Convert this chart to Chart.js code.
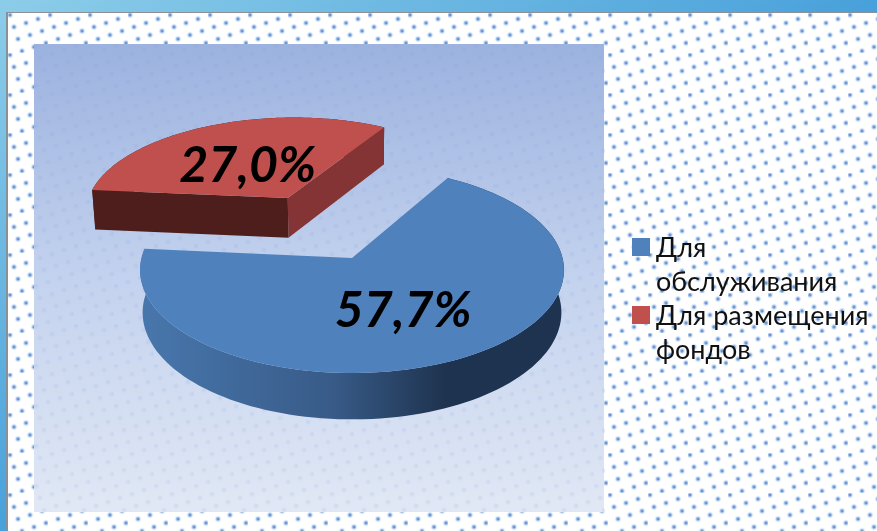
<!DOCTYPE html>
<html lang="ru">
<head>
<meta charset="utf-8">
<title>Диаграмма</title>
<script src="https://cdn.jsdelivr.net/npm/chart.js@4"></script>
<style>
    html, body { margin: 0; padding: 0; width: 877px; height: 531px; overflow: hidden; }
    #frame { position: absolute; left: 0; top: 0; width: 877px; height: 531px;
        background: linear-gradient(to bottom right, #8ccde9 0%, #49a1db 50%, #3f98d8 100%); }
    #sheet { position: absolute; left: 8px; top: 13px; width: 869px; height: 518px; background-color: #fff;
        box-shadow: -2px -1px 0 #8b9094; }
    #plate { position: absolute; left: 34px; top: 44px; width: 570px; height: 468px; }
    canvas { position: absolute; left: 0; top: 0; }
    #legend { position: absolute; left: 632px; top: 230px; width: 245px; margin: 0; padding: 0; list-style: none;
        font: 27px/34px Lato, "Open Sans", sans-serif; color: #111; }
    #legend li { position: relative; padding-left: 24px; width: 220px; }
    #legend span { position: absolute; left: 0; top: 8px; width: 18px; height: 18px; }
</style>
</head>
<body>
<div id="frame"></div>
<div id="sheet"></div>
<div id="plate"></div>
<canvas id="pieChart" width="877" height="531"></canvas>
<ul id="legend"></ul>
<script>
// --- Chart data ---
const categories = ['Для обслуживания', 'Для размещения фондов'];
const shareValues = [57.7, 27.0];

const topColors = ['#4f81bd', '#c0504d'];

// --- Perspective of the disc: centre, half axes and foreshortening ---
const view = { cx: 352, cy: 258, ax: 210.5, ay: 101.6, k: 0.1166 };
// bottom plane of the extruded disc
const floor = { cy: 300, sx: 0.988, sy: 1.038 };
const explode = [0, 0.713];
const sliceScale = [1, 1.015];
const labelRadius = 0.5;
const labelDrop = 5;
const labelFont = 'italic bold 50px Lato, "Open Sans", sans-serif';

// --- Dot wallpaper behind the chart ---
function dotPattern(core, soft) {
    const layers = [];
    for (let i = 0; i < 10; i++) {
        const x = (2 + i * 12) % 40;
        const y = (2 + i * 36) % 40;
        layers.push(`radial-gradient(circle 3.6px at ${x}px ${y}px, ${core} 0, ${core} 0.9px, ${soft} 2.2px, transparent 3.6px)`);
    }
    return layers;
}
function paintBackground() {
    const sheet = document.getElementById('sheet');
    const dots = dotPattern('rgba(80,135,205,0.85)', 'rgba(125,165,225,0.34)');
    sheet.style.backgroundImage = dots.join(',');
    sheet.style.backgroundSize = '40px 40px';

    const plate = document.getElementById('plate');
    const faint = dotPattern('rgba(120,150,215,0.14)', 'rgba(120,150,215,0.06)');
    plate.style.backgroundImage = faint.concat('linear-gradient(180deg, #9cb2df 0%, #c3d2ee 50%, #e1e8f5 100%)').join(',');
    plate.style.backgroundSize = Array(10).fill('40px 40px').concat('100% 100%').join(',');
}

// disc coordinates -> screen, low = bottom plane
function project(u, v, low) {
    const w = 1 - view.k * v;
    const x = view.ax * u / w;
    const y = view.ay * v / w;
    if (low) {
        return [view.cx + floor.sx * x, floor.cy + floor.sy * y];
    }
    return [view.cx + x, view.cy + y];
}

function rimPoints(arc, ou, ov, r, low) {
    const pts = [];
    const steps = 120;
    for (let i = 0; i <= steps; i++) {
        const a = arc.startAngle + (arc.endAngle - arc.startAngle) * i / steps;
        pts.push(project(ou + r * Math.cos(a), ov + r * Math.sin(a), low));
    }
    return pts;
}

function fillPoly(ctx, pts, fill) {
    ctx.beginPath();
    pts.forEach((p, i) => i ? ctx.lineTo(p[0], p[1]) : ctx.moveTo(p[0], p[1]));
    ctx.closePath();
    ctx.fillStyle = fill;
    ctx.fill();
}

function drawSlice(ctx, arc, index) {
    const mid = (arc.startAngle + arc.endAngle) / 2;
    const ou = Math.cos(mid) * explode[index];
    const ov = Math.sin(mid) * explode[index];
    const top = rimPoints(arc, ou, ov, sliceScale[index], false);
    const low = rimPoints(arc, ou, ov, sliceScale[index], true);
    const apexTop = project(ou, ov, false);
    const apexLow = project(ou, ov, true);

    if (index === 0) {
        // blue outer wall with the shading running to the right
        const g = ctx.createLinearGradient(142, 0, 564, 0);
        g.addColorStop(0, '#4877ad');
        g.addColorStop(0.45, '#385b88');
        g.addColorStop(0.72, '#1e334f');
        g.addColorStop(1, '#1e334f');
        fillPoly(ctx, top.concat(low.slice().reverse()), g);
    } else {
        fillPoly(ctx, top.concat(low.slice().reverse()), '#4d1e1c');
        // cut faces of the pulled out slice
        fillPoly(ctx, [apexTop, top[top.length - 1], low[low.length - 1], apexLow], '#843434');
        fillPoly(ctx, [apexTop, top[0], low[0], apexLow], '#4d1e1c');
    }
    fillPoly(ctx, [apexTop].concat(top), topColors[index]);
}

function drawLabel(ctx, arc, index) {
    const mid = (arc.startAngle + arc.endAngle) / 2;
    const r = explode[index] + labelRadius;
    const p = project(Math.cos(mid) * r, Math.sin(mid) * r, false);
    ctx.font = labelFont;
    ctx.fillStyle = '#000';
    ctx.textAlign = 'center';
    ctx.textBaseline = 'middle';
    ctx.fillText(shareValues[index].toFixed(1).replace('.', ',') + '%', p[0], p[1] + labelDrop);
}

// Pie elements keep the angles, this plugin only paints them in 3D
const pie3dPlugin = {
    id: 'pie3d',
    beforeDatasetsDraw(chart) {
        const ctx = chart.ctx;
        const arcs = chart.getDatasetMeta(0).data;
        ctx.save();
        drawSlice(ctx, arcs[1], 1);
        drawSlice(ctx, arcs[0], 0);
        drawLabel(ctx, arcs[1], 1);
        drawLabel(ctx, arcs[0], 0);
        ctx.restore();
        return false;
    }
};

function buildLegend() {
    const list = document.getElementById('legend');
    categories.forEach((name, i) => {
        const li = document.createElement('li');
        const box = document.createElement('span');
        box.style.background = topColors[i];
        li.appendChild(box);
        li.appendChild(document.createTextNode(name));
        list.appendChild(li);
    });
}

document.addEventListener('DOMContentLoaded', () => {
    paintBackground();
    buildLegend();
    new Chart(document.getElementById('pieChart'), {
        type: 'pie',
        data: {
            labels: categories,
            datasets: [{ data: shareValues, backgroundColor: topColors, borderWidth: 0 }]
        },
        options: {
            responsive: false,
            animation: false,
            rotation: 30,
            plugins: { legend: { display: false }, tooltip: { enabled: false } }
        },
        plugins: [pie3dPlugin]
    });
});
</script>
</body>
</html>
